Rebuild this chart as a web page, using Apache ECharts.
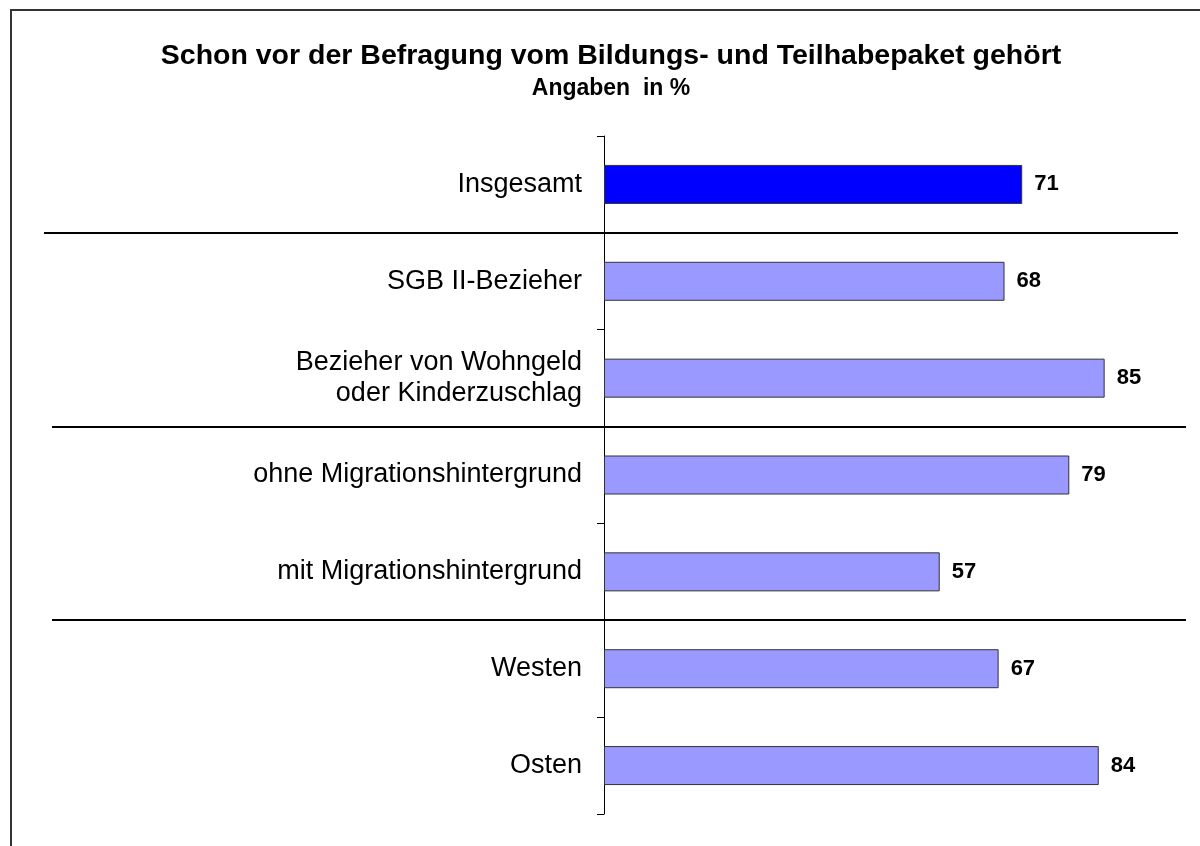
<!DOCTYPE html>
<html>
<head>
<meta charset="utf-8">
<title>Bildungs- und Teilhabepaket</title>
<script src="https://cdn.jsdelivr.net/npm/echarts@6/dist/echarts.min.js"></script>
<style>
  html, body { margin: 0; padding: 0; background: #fff; }
  #chart { width: 1200px; height: 846px; }
</style>
</head>
<body>
<div id="chart"></div>
<script>
// Kategorien (von oben nach unten) und Werte in %
const categories = [
  'Insgesamt',
  'SGB II-Bezieher',
  'Bezieher von Wohngeld\noder Kinderzuschlag',
  'ohne Migrationshintergrund',
  'mit Migrationshintergrund',
  'Westen',
  'Osten'
]
const values = [71, 68, 85, 79, 57, 67, 84]
// Trennlinien jeweils nach diesen Kategorien
const groupEnds = [0, 2, 4]

const FONT = '"Liberation Sans", Arial, sans-serif'
const chart = echarts.init(document.getElementById('chart'))

const option = {
  backgroundColor: '#fff',
  animation: false,
  title: {
    text: 'Schon vor der Befragung vom Bildungs- und Teilhabepaket gehört',
    subtext: 'Angaben  in %',
    left: 606,
    textAlign: 'center',
    top: 37,
    itemGap: 6,
    textStyle: { fontFamily: FONT, fontSize: 28.5, fontWeight: 'bold', color: '#000' },
    subtextStyle: { fontFamily: FONT, fontSize: 23, fontWeight: 'bold', color: '#000' }
  },
  grid: { left: 604, right: 7, top: 136, bottom: 32 },
  xAxis: {
    type: 'value',
    min: 0,
    max: 100,
    show: false
  },
  yAxis: {
    type: 'category',
    inverse: true,
    data: categories,
    axisLine: { lineStyle: { color: '#000', width: 1 } },
    axisTick: { show: true, interval: 0, length: 7, lineStyle: { color: '#000' } },
    axisLabel: {
      interval: 0,
      margin: 22,
      fontFamily: FONT,
      fontSize: 27,
      lineHeight: 31,
      color: '#000',
      align: 'right'
    }
  },
  series: [{
    type: 'bar',
    data: values.map((v, i) => ({
      value: v,
      itemStyle: { color: i === 0 ? '#0000ff' : '#9999ff' }
    })),
    barWidth: 39,
    itemStyle: { borderColor: '#333', borderWidth: 1 },
    label: {
      show: true,
      position: 'right',
      distance: 12,
      fontFamily: FONT,
      fontSize: 22,
      fontWeight: 'bold',
      color: '#000'
    }
  }]
}
chart.setOption(option)

// Trennlinien zwischen den Gruppen an den Kategoriegrenzen
function drawSeparators () {
  const lines = groupEnds.map((idx, k) => {
    const y1 = chart.convertToPixel({ yAxisIndex: 0 }, idx)
    const y2 = chart.convertToPixel({ yAxisIndex: 0 }, idx + 1)
    const y = Math.round((y1 + y2) / 2)
    return {
      type: 'line',
      shape: { x1: k === 0 ? 44 : 52, y1: y, x2: k === 0 ? 1178 : 1186, y2: y },
      style: { stroke: '#000', lineWidth: 2 }
    }
  })
  // Rahmen oben und links
  lines.push({
    type: 'polyline',
    shape: { points: [[11, 846], [11, 10], [1200, 10]] },
    style: { stroke: '#333', lineWidth: 2, fill: null }
  })
  chart.setOption({ graphic: lines })
}
drawSeparators()
</script>
</body>
</html>
